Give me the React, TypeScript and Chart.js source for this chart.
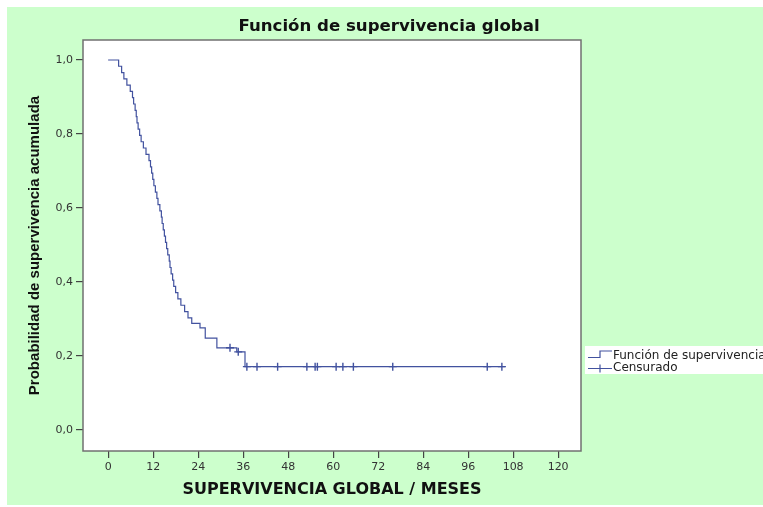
import React, { useEffect, useRef } from 'react';
import { Chart, registerables } from 'chart.js';

Chart.register(...registerables);

const chartTitle = 'Función de supervivencia global';
const xAxisTitle = 'SUPERVIVENCIA GLOBAL / MESES';
const yAxisTitle = 'Probabilidad de supervivencia acumulada';
const legendLabels = ['Función de supervivencia', 'Censurado'];

const xTicks = [0, 12, 24, 36, 48, 60, 72, 84, 96, 108, 120];
const yTicks = [0, 0.2, 0.4, 0.6, 0.8, 1.0];

// Kaplan-Meier step function: month of each drop and survival after it
const eventMonths = [
  0, 2.8, 3.6, 4.2, 5.0, 5.9, 6.5, 6.8, 7.2, 7.5, 7.7, 8.0, 8.4, 8.8, 9.4, 10.1,
  10.9, 11.3, 11.6, 11.9, 12.2, 12.6, 13.0, 13.3, 13.8, 14.2, 14.4, 14.7, 15.0,
  15.3, 15.6, 15.9, 16.3, 16.5, 16.8, 17.2, 17.5, 18.0, 18.6, 19.4, 20.4, 21.3,
  22.3, 24.5, 25.9, 29.0, 34.3, 36.5,
];
const survivalProb = [
  1.0, 0.983, 0.966, 0.949, 0.932, 0.915, 0.898, 0.881, 0.864, 0.847, 0.83, 0.813,
  0.796, 0.779, 0.762, 0.745, 0.728, 0.711, 0.694, 0.677, 0.66, 0.643, 0.626,
  0.609, 0.592, 0.575, 0.558, 0.541, 0.524, 0.507, 0.49, 0.473, 0.456, 0.439,
  0.422, 0.405, 0.388, 0.371, 0.354, 0.337, 0.32, 0.303, 0.288, 0.276, 0.248,
  0.222, 0.211, 0.171,
];
const followUpEnd = 105.9;

const censoredMonths = [32.5, 34.7, 37.0, 39.7, 45.2, 53.0, 55.2, 55.8, 60.8, 62.6, 65.4, 75.9, 101.1, 105.0];
const censoredProb = [0.222, 0.211, 0.171, 0.171, 0.171, 0.171, 0.171, 0.171, 0.171, 0.171, 0.171, 0.171, 0.171, 0.171];

const LINE_COLOR = '#42529f';
const BG_GREEN = '#ccffcc';

export default function App() {
  const ref = useRef<HTMLCanvasElement | null>(null);

  useEffect(() => {
    document.body.style.margin = '0';
    const canvas = ref.current;
    if (!canvas) return;

    const kmPoints = eventMonths.map((t, i) => ({ x: t, y: survivalProb[i] }));
    kmPoints.push({ x: followUpEnd, y: survivalProb[survivalProb.length - 1] });
    const censPoints = censoredMonths.map((t, i) => ({ x: t, y: censoredProb[i] }));

    const decor = {
      id: 'decor',
      beforeDraw(chart: any) {
        const { ctx, chartArea } = chart;
        ctx.save();
        ctx.fillStyle = BG_GREEN;
        ctx.fillRect(7, 7, 763 - 7, 505 - 7);
        ctx.fillStyle = '#ffffff';
        ctx.fillRect(chartArea.left, chartArea.top, chartArea.right - chartArea.left, chartArea.bottom - chartArea.top);
        // title
        ctx.fillStyle = '#111111';
        ctx.font = 'bold 16.6px "DejaVu Sans"';
        ctx.textAlign = 'center';
        ctx.textBaseline = 'middle';
        ctx.fillText(chartTitle, 389, 27);
        ctx.restore();
      },
      afterDraw(chart: any) {
        const { ctx, chartArea } = chart;
        ctx.save();
        ctx.strokeStyle = '#707070';
        ctx.lineWidth = 1.5;
        ctx.strokeRect(chartArea.left, chartArea.top, chartArea.right - chartArea.left, chartArea.bottom - chartArea.top);
        // legend
        const lx = 588;
        ctx.fillStyle = '#ffffff';
        ctx.fillRect(585, 346, 763 - 585, 28);
        ctx.strokeStyle = LINE_COLOR;
        ctx.lineWidth = 1.2;
        ctx.beginPath();
        ctx.moveTo(lx, 357.5);
        ctx.lineTo(lx + 12, 357.5);
        ctx.lineTo(lx + 12, 351);
        ctx.lineTo(lx + 24, 351);
        ctx.stroke();
        ctx.beginPath();
        ctx.moveTo(lx, 368.5);
        ctx.lineTo(lx + 24, 368.5);
        ctx.moveTo(lx + 12, 364.5);
        ctx.lineTo(lx + 12, 372.5);
        ctx.stroke();
        ctx.fillStyle = '#222222';
        ctx.font = '12px "DejaVu Sans"';
        ctx.textAlign = 'left';
        ctx.textBaseline = 'middle';
        ctx.fillText(legendLabels[0], 613, 355.5);
        ctx.fillText(legendLabels[1], 613, 368);
        ctx.restore();
      },
    };

    const chart = new Chart(canvas, {
      type: 'line',
      data: {
        datasets: [
          {
            label: legendLabels[0],
            data: kmPoints,
            stepped: true,
            borderColor: LINE_COLOR,
            borderWidth: 1.2,
            pointRadius: 0,
            fill: false,
          },
          {
            label: legendLabels[1],
            data: censPoints,
            showLine: false,
            pointStyle: 'cross',
            pointRadius: 4,
            borderColor: LINE_COLOR,
            backgroundColor: LINE_COLOR,
            borderWidth: 1.4,
          },
        ],
      },
      options: {
        responsive: false,
        animation: false,
        events: [],
        layout: { padding: { top: 40, right: 182, left: 0, bottom: 0 } },
        plugins: {
          legend: { display: false },
          title: { display: false },
          tooltip: { enabled: false },
        },
        scales: {
          x: {
            type: 'linear',
            min: -6.7,
            max: 126.1,
            afterFit(scale: any) { scale.height = 56; },
            afterBuildTicks(scale: any) { scale.ticks = xTicks.map((v) => ({ value: v })); },
            grid: { drawOnChartArea: false, drawTicks: true, tickLength: 7, color: '#444444', lineWidth: 1.2 },
            border: { display: false },
            ticks: {
              padding: 3,
              color: '#333333',
              font: { family: '"DejaVu Sans"', size: 11 },
              maxRotation: 0,
              autoSkip: false,
              callback: (v: any) => String(v),
            },
            title: {
              display: true,
              text: xAxisTitle,
              color: '#111111',
              font: { family: '"DejaVu Sans"', size: 16, weight: 'bold' },
              padding: { top: 0, bottom: 7.5 },
            },
          },
          y: {
            type: 'linear',
            min: -0.057,
            max: 1.054,
            afterFit(scale: any) { scale.width = 83; },
            afterBuildTicks(scale: any) { scale.ticks = yTicks.map((v) => ({ value: v })); },
            grid: { drawOnChartArea: false, drawTicks: true, tickLength: 7, color: '#444444', lineWidth: 1.2 },
            border: { display: false },
            ticks: {
              padding: 3,
              color: '#333333',
              font: { family: '"DejaVu Sans"', size: 11 },
              autoSkip: false,
              callback: (v: any) => Number(v).toFixed(1).replace('.', ','),
            },
            title: {
              display: true,
              text: yAxisTitle,
              color: '#111111',
              font: { family: '"Liberation Sans"', size: 15, weight: 'bold' },
              padding: { top: 26, bottom: 0 },
            },
          },
        },
      },
      plugins: [decor],
    });

    return () => chart.destroy();
  }, []);

  return (
    <div style={{ width: 763, height: 507 }}>
      <canvas ref={ref} width={763} height={507} style={{ display: 'block' }} />
    </div>
  );
}
